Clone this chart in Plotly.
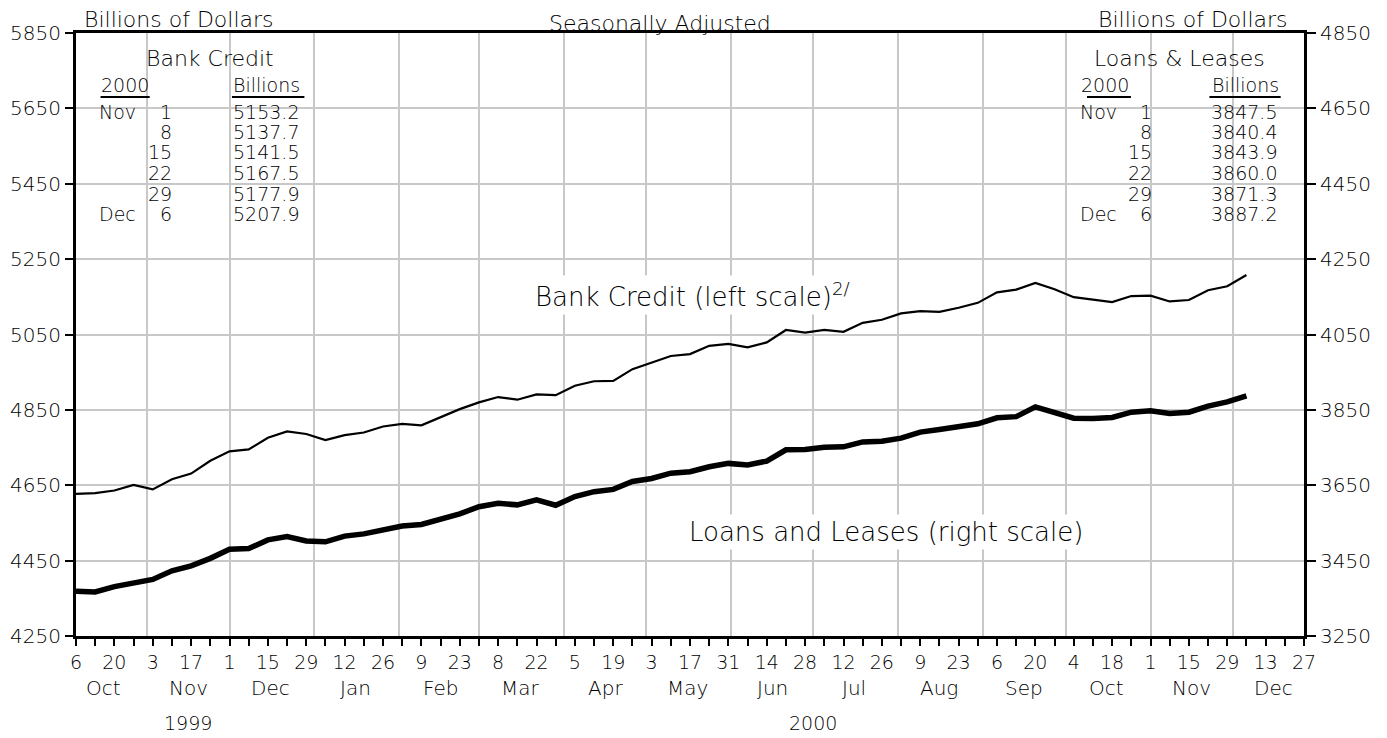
import pandas as pd
import plotly.graph_objects as go

# ---------------- data ----------------
start_week = "1999-10-06"
n_weeks = 62
weeks = pd.date_range(start_week, periods=n_weeks, freq="7D")

bank_credit = [
    4627, 4629, 4636, 4651, 4639, 4666, 4681, 4715, 4740, 4745,
    4776, 4793, 4786, 4770, 4783, 4790, 4806, 4813, 4809, 4830,
    4852, 4870, 4884, 4877, 4891, 4889, 4914, 4926, 4927, 4958,
    4975, 4993, 4998, 5020, 5025, 5016, 5029, 5062, 5055, 5062,
    5057, 5081, 5089, 5106, 5112, 5110, 5121, 5134, 5162, 5169,
    5187, 5170, 5149, 5142, 5136, 5152, 5153.2, 5137.7, 5141.5, 5167.5,
    5177.9, 5207.9,
]
loans_leases = [
    3369, 3367, 3381, 3391, 3400, 3423, 3436, 3456, 3480, 3482,
    3505, 3514, 3502, 3500, 3515, 3521, 3531, 3542, 3546, 3561,
    3574, 3593, 3602, 3598, 3611, 3597, 3620, 3633, 3639, 3660,
    3668, 3682, 3686, 3699, 3708, 3704, 3714, 3744, 3745, 3751,
    3752, 3765, 3767, 3775, 3791, 3798, 3805, 3813, 3829, 3832,
    3858, 3843, 3828, 3827, 3830, 3844, 3847.5, 3840.4, 3843.9, 3860.0,
    3871.3, 3887.2,
]

table_months = ["Nov", "", "", "", "", "Dec"]
table_days = ["1", "8", "15", "22", "29", "6"]

left_ticks = [4250, 4450, 4650, 4850, 5050, 5250, 5450, 5650, 5850]
right_ticks = [3250, 3450, 3650, 3850, 4050, 4250, 4450, 4650, 4850]

x_start, x_end = "1999-10-06", "2000-12-27"
biweekly = pd.date_range(x_start, x_end, freq="14D")
month_starts = pd.date_range("1999-11-01", "2000-12-01", freq="MS")
month_mids = pd.date_range("1999-10-01", "2000-12-01", freq="MS") + pd.Timedelta(days=15)
month_names = [d.strftime("%b") for d in month_mids]
year_labels = [("1999-11-16", "1999"), ("2000-07-01", "2000")]

# ---------------- figure ----------------
TXT = "DejaVu Sans"
BLACK = "#000000"
GRID = "#c8c8c8"
W8 = 200

fig = go.Figure()

fig.add_trace(go.Scatter(x=weeks, y=bank_credit, mode="lines",
                         line=dict(color=BLACK, width=2.2), yaxis="y",
                         xaxis="x", showlegend=False, hoverinfo="x+y"))
fig.add_trace(go.Scatter(x=weeks, y=loans_leases, mode="lines",
                         line=dict(color=BLACK, width=5.5), yaxis="y2",
                         xaxis="x", showlegend=False, hoverinfo="x+y"))
# invisible trace to carry month gridline axis
fig.add_trace(go.Scatter(x=[weeks[0]], y=[bank_credit[0]], mode="markers",
                         marker=dict(opacity=0), xaxis="x2", yaxis="y",
                         showlegend=False, hoverinfo="skip"))

tickfont_y = dict(family=TXT, size=20, weight=W8, color=BLACK)
tickfont_x = dict(family=TXT, size=19, weight=W8, color=BLACK)

fig.update_layout(
    width=1379, height=730,
    margin=dict(l=68, r=83, t=25, b=102, autoexpand=False),
    paper_bgcolor="white", plot_bgcolor="white",
    font=dict(family=TXT, color=BLACK, size=18, weight=W8),
    xaxis=dict(
        type="date", range=[x_start, x_end], automargin=False,
        tickmode="array", tickvals=list(biweekly),
        ticktext=[str(d.day) for d in biweekly],
        ticks="outside", ticklen=7, tickwidth=1.5, tickcolor=BLACK,
        tickfont=tickfont_x,
        minor=dict(dtick=7 * 86400000, tick0=x_start, ticks="outside",
                   ticklen=7, tickwidth=1.5, tickcolor=BLACK, showgrid=False),
        showgrid=False, showline=True, linewidth=3, linecolor=BLACK,
        mirror=True, zeroline=False, fixedrange=True,
    ),
    xaxis2=dict(
        type="date", overlaying="x", matches="x", range=[x_start, x_end],
        tickmode="array", tickvals=list(month_starts), ticks="",
        showticklabels=False, showgrid=True, gridcolor=GRID, gridwidth=1.5,
        showline=False, zeroline=False, automargin=False,
    ),
    yaxis=dict(
        range=[4250, 5850], tickmode="array", tickvals=left_ticks,
        ticks="outside", ticklen=8, tickwidth=1.5, tickcolor=BLACK,
        tickfont=tickfont_y, automargin=False,
        showgrid=True, gridcolor=GRID, gridwidth=1.5,
        showline=True, linewidth=3, linecolor=BLACK, zeroline=False,
    ),
    yaxis2=dict(
        range=[3250, 4850], overlaying="y", side="right",
        tickmode="array", tickvals=right_ticks, automargin=False,
        ticks="outside", ticklen=9, tickwidth=1.5, tickcolor=BLACK,
        tickfont=tickfont_y,
        showgrid=False, showline=True, linewidth=3, linecolor=BLACK,
        zeroline=False,
    ),
)

shapes = []
# white boxes behind the two tables
for x0, x1 in [(0.0016, 0.2028), (0.797, 0.998)]:
    shapes.append(dict(type="rect", xref="paper", yref="paper",
                       x0=x0, x1=x1, y0=0.663, y1=0.988,
                       fillcolor="white", line=dict(width=0), layer="between"))
# underlines of table headers
for x0, x1 in [(0.020, 0.060), (0.127, 0.186), (0.8233, 0.8591), (0.923, 0.981)]:
    shapes.append(dict(type="line", xref="paper", yref="paper",
                       x0=x0, x1=x1, y0=0.894, y1=0.894,
                       line=dict(color=BLACK, width=2)))
fig.update_layout(shapes=shapes)

ann = []
def add_text(text, x, y, xanchor="center", size=19, xref="paper", bg=None,
             yanchor="middle"):
    d = dict(text=text, x=x, y=y, xref=xref, yref="paper", xanchor=xanchor,
             yanchor=yanchor, showarrow=False,
             font=dict(family=TXT, size=size, color=BLACK, weight=W8))
    if bg:
        d.update(bgcolor=bg, borderpad=2)
    ann.append(d)

# titles
add_text("Seasonally Adjusted", 0.4756, 1.0405, size=22, yanchor="top")
add_text("Billions of Dollars", 0.005, 1.022, xanchor="left", size=22)
add_text("Billions of Dollars", 0.9886, 1.022, xanchor="right", size=22)

# tables
row_y = [0.869, 0.835, 0.802, 0.767, 0.733, 0.700]
tables = [
    dict(title="Bank Credit", tx=0.109, yr=0.040, br=0.1555,
         mx=0.0171, dx=0.0798, vx=0.1832, vals=bank_credit[-6:]),
    dict(title="Loans &amp; Leases", tx=0.899, yr=0.838, br=0.952,
         mx=0.816, dx=0.878, vx=0.980, vals=loans_leases[-6:]),
]
for t in tables:
    add_text(t["title"], t["tx"], 0.957, size=22)
    add_text("2000", t["yr"], 0.914, size=19)
    add_text("Billions", t["br"], 0.914, size=19)
    for m, dday, v, yy in zip(table_months, table_days, t["vals"], row_y):
        if m:
            add_text(m, t["mx"], yy, xanchor="left", size=19)
        add_text(dday, t["dx"], yy, xanchor="right", size=19)
        add_text(f"{v:.1f}", t["vx"], yy, xanchor="right", size=19)

# series labels
add_text("Bank Credit (left scale)<sup>2/</sup>", 0.371, 0.5655, xanchor="left",
         size=26, bg="white")
add_text("Loans and Leases (right scale)", 0.4967, 0.1725, xanchor="left",
         size=26, bg="white")

# month and year labels
for d, name in zip(month_mids, month_names):
    add_text(name, d, -0.086, size=20, xref="x")
for d, name in year_labels:
    add_text(name, d, -0.144, size=19, xref="x")

fig.update_layout(annotations=ann)

fig.write_html("out.html")
